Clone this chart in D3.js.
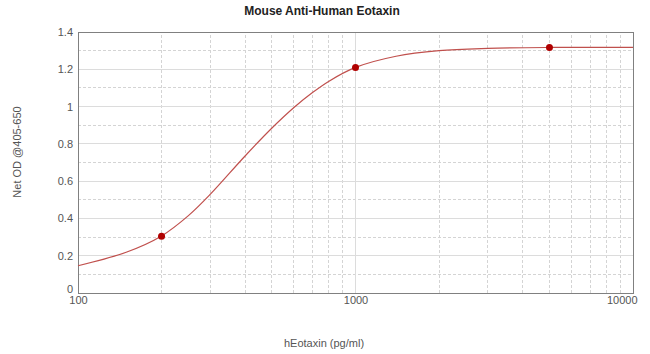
<!DOCTYPE html>
<html>
<head>
<meta charset="utf-8">
<script src="https://cdn.jsdelivr.net/npm/d3@7"></script>
<style>
  body { margin: 0; background: #fff; }
  svg { display: block; font-family: "Liberation Sans", Arial, sans-serif; }
</style>
</head>
<body>
<div id="chart"></div>
<script>
// measured standards (pg/ml -> net OD)
const stdConc = [200, 1000, 5000];
const stdOD = [0.305, 1.21, 1.317];

// fitted curve
const curveConc = [100, 150, 200, 250, 300, 400, 500, 600, 700, 800, 1000, 1400, 2000, 3000, 5000, 10000];
const curveOD = [0.146, 0.22, 0.306, 0.415, 0.53, 0.735, 0.885, 0.995, 1.075, 1.135, 1.21, 1.27, 1.30, 1.312, 1.317, 1.318];

const yTicks = [0, 0.2, 0.4, 0.6, 0.8, 1, 1.2, 1.4];
const xTicks = [100, 1000, 10000];

const W = 650, H = 354;
const margin = { top: 32, right: 17, bottom: 61, left: 78 };

const svg = d3.select('#chart').append('svg')
  .attr('width', W)
  .attr('height', H);

const x = d3.scaleLog()
  .domain([100, 10000])
  .range([margin.left, W - margin.right]);

const y = d3.scaleLinear()
  .domain([0, 1.4])
  .range([H - margin.bottom, margin.top]);

// grid - minor first (dashed), then major (solid)
const minorX = x.ticks().filter(d => !xTicks.includes(d));
const minorY = d3.range(1, 14, 2).map(d => d / 10);

svg.append('g').selectAll('line')
  .data(minorX)
  .enter().append('line')
  .attr('x1', d => x(d)).attr('x2', d => x(d))
  .attr('y1', y(0)).attr('y2', y(1.4))
  .attr('stroke', '#d4d4d4')
  .attr('stroke-dasharray', '3,2')
  .attr('shape-rendering', 'crispEdges');

svg.append('g').selectAll('line')
  .data(minorY)
  .enter().append('line')
  .attr('x1', x(100)).attr('x2', x(10000))
  .attr('y1', d => y(d)).attr('y2', d => y(d))
  .attr('stroke', '#d4d4d4')
  .attr('stroke-dasharray', '3,2')
  .attr('shape-rendering', 'crispEdges');

svg.append('g').selectAll('line')
  .data(yTicks.slice(1, -1))
  .enter().append('line')
  .attr('x1', x(100)).attr('x2', x(10000))
  .attr('y1', d => y(d)).attr('y2', d => y(d))
  .attr('stroke', '#dcdcdc')
  .attr('shape-rendering', 'crispEdges');

svg.append('line')
  .attr('x1', x(1000)).attr('x2', x(1000))
  .attr('y1', y(0)).attr('y2', y(1.4))
  .attr('stroke', '#dcdcdc')
  .attr('shape-rendering', 'crispEdges');

// frame
svg.append('rect')
  .attr('x', x(100)).attr('y', y(1.4))
  .attr('width', x(10000) - x(100))
  .attr('height', y(0) - y(1.4))
  .attr('fill', 'none')
  .attr('stroke', '#808080')
  .attr('shape-rendering', 'crispEdges');

// axes
const yAxis = svg.append('g')
  .attr('transform', `translate(${margin.left},0)`)
  .call(d3.axisLeft(y).tickValues(yTicks).tickSize(0).tickPadding(5).tickFormat(d3.format('~g')));
yAxis.select('.domain').remove();
yAxis.selectAll('.tick text').attr('font-size', '11px').attr('fill', '#555');
yAxis.selectAll('.tick').filter(d => d === 0).select('text').attr('dy', '-0.05em');

const xAxis = svg.append('g')
  .attr('transform', `translate(0,${H - margin.bottom})`)
  .call(d3.axisBottom(x).tickValues(xTicks).tickSize(0).tickPadding(3).tickFormat(d3.format('d')));
xAxis.select('.domain').remove();
xAxis.selectAll('.tick text').attr('font-size', '11px').attr('fill', '#555');
xAxis.selectAll('.tick').filter(d => d === 10000).select('text')
  .attr('text-anchor', 'end').attr('x', 4);

// curve
const line = d3.line()
  .x((d, i) => x(curveConc[i]))
  .y(d => y(d))
  .curve(d3.curveCatmullRom.alpha(0.5));

svg.append('path')
  .datum(curveOD)
  .attr('d', line)
  .attr('fill', 'none')
  .attr('stroke', '#c0504d')
  .attr('stroke-width', 1.2);

svg.append('g').selectAll('circle')
  .data(stdOD)
  .enter().append('circle')
  .attr('cx', (d, i) => x(stdConc[i]))
  .attr('cy', d => y(d))
  .attr('r', 3.5)
  .attr('fill', '#b00000');

// titles
svg.append('text')
  .attr('x', 322).attr('y', 15)
  .attr('text-anchor', 'middle')
  .attr('font-size', '12px')
  .attr('font-weight', 'bold')
  .attr('fill', '#222')
  .text('Mouse Anti-Human Eotaxin');

svg.append('text')
  .attr('transform', 'translate(21,152) rotate(-90)')
  .attr('text-anchor', 'middle')
  .attr('font-size', '11px')
  .attr('fill', '#555')
  .text('Net OD @405-650');

svg.append('text')
  .attr('x', 324).attr('y', 347)
  .attr('text-anchor', 'middle')
  .attr('font-size', '11px')
  .attr('fill', '#555')
  .text('hEotaxin (pg/ml)');
</script>
</body>
</html>
